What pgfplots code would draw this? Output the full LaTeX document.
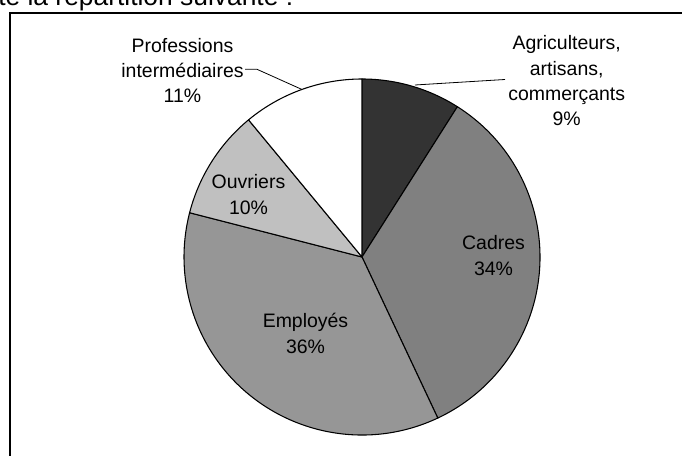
\documentclass[border=0pt]{standalone}
\usepackage{fontspec}
\setmainfont{Liberation Sans}
\usepackage{pgfplots}
\pgfplotsset{compat=1.18}
\definecolor{agri}{HTML}{333333}
\definecolor{cadres}{HTML}{808080}
\definecolor{employes}{HTML}{969696}
\definecolor{ouvriers}{HTML}{C0C0C0}
\newcommand{\lbl}{\fontsize{14.6pt}{19pt}\selectfont}
\def\R{133.5pt}
\begin{document}
\begin{tikzpicture}
\useasboundingbox (0,0) rectangle (511.5pt,342pt);
\clip (0,0) rectangle (511.5pt,342pt);
\begin{axis}[x=0.75pt,y=0.75pt,xmin=0,xmax=682,ymin=-456,ymax=0,
  scale only axis,hide axis,clip=false,at={(0,0)},anchor=south west]
% heading (cut off at the top)
\node[anchor=base west,inner sep=0,font=\fontsize{19.8pt}{24pt}\selectfont] at (axis cs:-2,-6) {te la répartition suivante :};
% frame
\draw[line width=1.1pt] (axis cs:10,-480) -- (axis cs:10,-13) -- (axis cs:700,-13);
% pie: 9, 34, 36, 10, 11 (%), clockwise from 12 o'clock
\begin{scope}[line width=0.8pt,line join=round]
\filldraw[fill=agri] (axis cs:362,-257) -- ++(90:\R) arc[start angle=90, end angle={90-3.6*9}, radius=\R] -- cycle;
\filldraw[fill=cadres] (axis cs:362,-257) -- ++({90-3.6*9}:\R) arc[start angle={90-3.6*9}, end angle={90-3.6*(9+34)}, radius=\R] -- cycle;
\filldraw[fill=employes] (axis cs:362,-257) -- ++({90-3.6*(9+34)}:\R) arc[start angle={90-3.6*(9+34)}, end angle={90-3.6*(9+34+36)}, radius=\R] -- cycle;
\filldraw[fill=ouvriers] (axis cs:362,-257) -- ++({90-3.6*(9+34+36)}:\R) arc[start angle={90-3.6*(9+34+36)}, end angle={90-3.6*(9+34+36+10)}, radius=\R] -- cycle;
\filldraw[fill=white] (axis cs:362,-257) -- ++({90-3.6*(9+34+36+10)}:\R) arc[start angle={90-3.6*(9+34+36+10)}, end angle={90-3.6*(9+34+36+10+11)}, radius=\R] -- cycle;
\end{scope}
% leader lines
\draw[line width=0.6pt] (axis cs:245,-69.3) -- (axis cs:257,-69.3) -- (axis cs:302,-89.5);
\draw[line width=0.6pt] (axis cs:505,-79.5) -- (axis cs:415,-85);
% labels
\node[align=center,inner sep=0,font=\lbl] at (axis cs:182.5,-70.5) {Professions\\intermédiaires\\11\%};
\node[align=center,inner sep=0,font=\lbl] at (axis cs:566.7,-81) {Agriculteurs,\\artisans,\\commerçants\\9\%};
\node[align=center,inner sep=0,font=\lbl] at (axis cs:493.5,-255.5) {Cadres\\34\%};
\node[align=center,inner sep=0,font=\lbl] at (axis cs:305.5,-333.5) {Employés\\36\%};
\node[align=center,inner sep=0,font=\lbl] at (axis cs:248.5,-194.5) {Ouvriers\\10\%};
\end{axis}
\end{tikzpicture}
\end{document}
